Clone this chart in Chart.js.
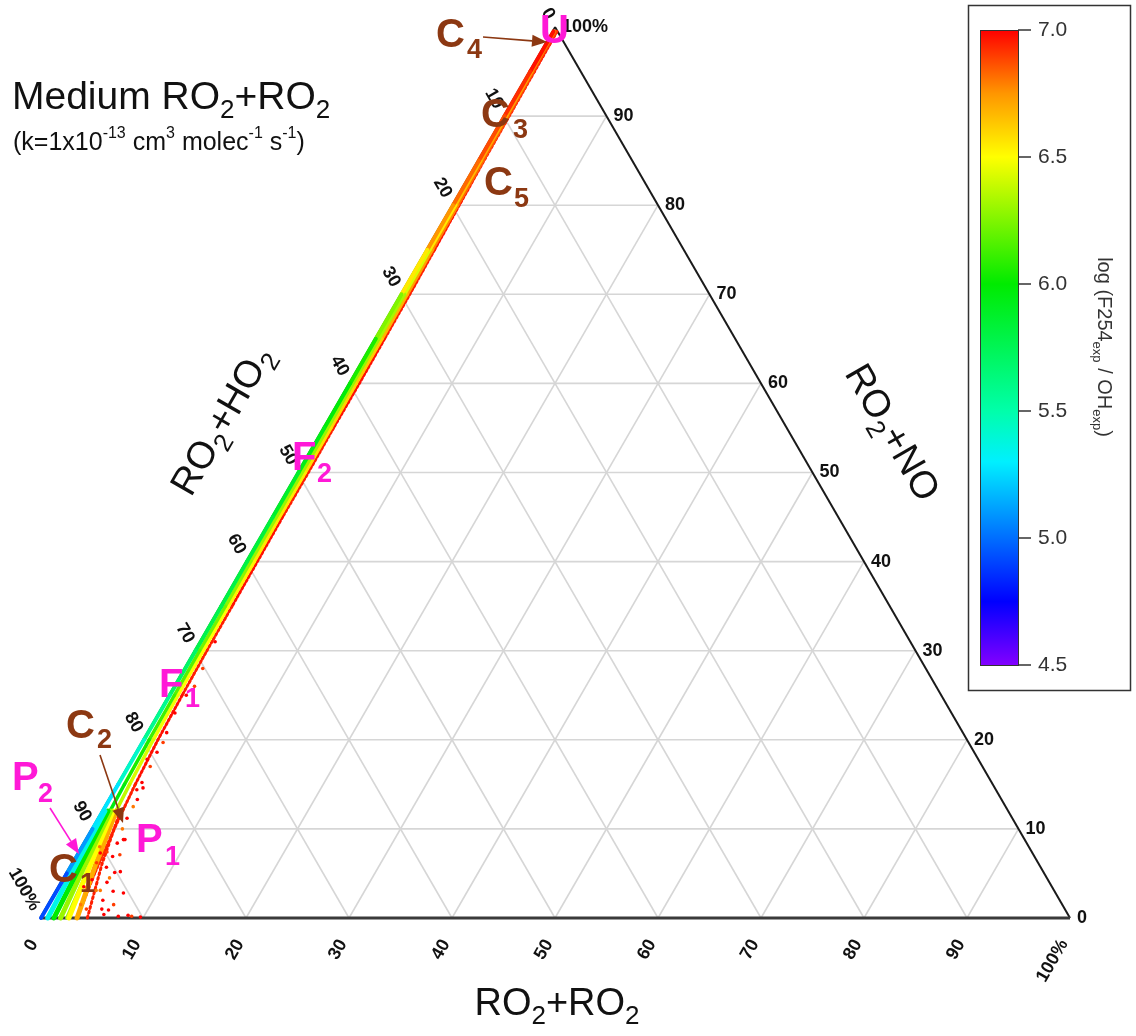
<!DOCTYPE html>
<html><head><meta charset="utf-8">
<script src="https://cdn.jsdelivr.net/npm/chart.js@4.4.0/dist/chart.umd.min.js"></script>
<style>html,body{margin:0;padding:0;background:#fff;}#c{display:block;}</style>
</head><body>
<canvas id="c" width="1136" height="1036"></canvas>
<script>
// ---------------- DATA (ternary %: RO2+RO2 = r, RO2+NO = n, RO2+HO2 = 100-r-n) ----------------
const tickVals  = [0, 10, 20, 30, 40, 50, 60, 70, 80, 90, 100];
const tickText  = ['0', '10', '20', '30', '40', '50', '60', '70', '80', '90', '100%'];
const gridTicks = [10, 20, 30, 40, 50, 60, 70, 80, 90];
const cbTicks   = [4.5, 5.0, 5.5, 6.0, 6.5, 7.0];

// main band along RO2+RO2 ~ 0 edge, sampled by RO2+NO
const bandNO   = [99.5, 95, 90, 85, 80, 75, 70, 65, 60, 55, 50, 45, 40, 35, 30, 25, 20, 15, 10, 5, 0];
const outerRO2 = [0.1, 0.1, 0.1, 0.1, 0.1, 0.1, 0.1, 0.1, 0.1, 0.1, 0.1, 0.1, 0.1, 0.1, 0.1, 0.1, 0.1, 0.1, 0.1, 0.1, 0.1];
const outerLog = [7.0, 6.95, 6.9, 6.85, 6.8, 6.7, 6.4, 6.1, 6.0, 5.95, 5.9, 5.85, 5.8, 5.8, 5.75, 5.65, 5.5, 5.35, 5.2, 5.0, 4.85];
const midRO2   = [0.2, 0.25, 0.3, 0.3, 0.35, 0.35, 0.4, 0.4, 0.4, 0.45, 0.45, 0.45, 0.45, 0.5, 0.5, 0.55, 0.6, 0.7, 0.85, 1.1, 1.4];
const midLog   = [6.8, 6.75, 6.7, 6.7, 6.6, 6.5, 6.35, 6.3, 6.3, 6.3, 6.3, 6.3, 6.3, 6.25, 6.2, 6.15, 6.1, 6.0, 5.9, 5.8, 5.7];
const innerRO2 = [0.35, 0.4, 0.45, 0.5, 0.55, 0.6, 0.65, 0.7, 0.7, 0.75, 0.75, 0.75, 0.8, 0.8, 0.85, 0.9, 1.0, 1.2, 1.5, 2.0, 2.6];
const innerLog = [6.9, 6.9, 6.85, 6.85, 6.8, 6.75, 6.7, 6.65, 6.6, 6.6, 6.55, 6.55, 6.55, 6.5, 6.5, 6.5, 6.45, 6.4, 6.35, 6.3, 6.3];
const speckRO2 = [0.45, 0.5, 0.55, 0.6, 0.7, 0.8, 0.9, 0.95, 1.0, 1.0, 1.05, 1.05, 1.1, 1.15, 1.2, 1.3, 1.45, 1.75, 2.2, 2.8, 3.6];
const speckLog = [7.0, 7.0, 6.95, 7.0, 6.95, 7.0, 6.9, 7.0, 6.95, 7.0, 6.9, 7.0, 6.95, 7.0, 6.9, 7.0, 6.95, 7.0, 6.9, 6.95, 7.0];

// fan of points at the RO2+HO2 = 100% corner
const wedgeNO     = [12, 6, 0];
const wedgeCyan   = [0.3, 0.5, 0.75];
const wedgeGreen  = [0.6, 0.95, 1.35];
const wedgeYG     = [0.85, 1.4, 2.0];
const wedgeYellow = [1.1, 1.9, 2.8];
const wedgeOrange = [1.4, 2.4, 3.6];
const wedgeLogs   = [5.35, 6.0, 6.3, 6.5, 6.7];
const wedgeSpeck  = [1.8, 3.0, 4.6];

// scattered points
const dotsRO2 = [3.3, 3.7, 2.8, 3.6, 5.2, 4.5, 6.7, 5.1, 6.4, 8.4, 9.7, 3.9, 2.9, 3.6, 1.8, 2.7, 2.2, 3.85, 4.2, 4.7, 6.2, 4.3, 4.5, 2.4, 2.2, 1.5, 2.2, 2.3, 2.8, 2.8, 2.85, 1.9, 2.1, 2.06, 7.5, 8.8, 6.0, 5.5, 1.7, 1.8, 1.5, 1.6, 2.0, 3.2, 2.5, 4.0, 5.6, 3.0];
const dotsNO  = [8.4, 8.8, 7.4, 6.9, 5.2, 4.5, 2.8, 2.0, 1.5, 0.3, 0.1, 3.1, 4.3, 5.7, 8.0, 14.6, 14.4, 8.8, 7.1, 5.1, 0.9, 3.1, 4.0, 6.2, 7.3, 17.8, 17.0, 15.2, 13.3, 12.5, 11.2, 20.8, 19.7, 18.6, 0.2, 0.2, 0.4, 1.0, 25, 28, 31, 23, 26, 1.5, 3.5, 1.0, 3.0, 10.0];
const dotsLog = [7.0, 7.0, 6.9, 7.0, 7.0, 6.8, 7.0, 7.0, 6.9, 7.0, 7.0, 6.8, 7.0, 7.0, 6.8, 7.0, 7.0, 7.0, 6.9, 7.0, 7.0, 6.8, 7.0, 6.9, 7.0, 7.0, 6.9, 7.0, 7.0, 6.8, 7.0, 7.0, 6.9, 7.0, 7.0, 6.9, 7.0, 7.0, 7.0, 6.9, 7.0, 7.0, 6.9, 6.8, 7.0, 6.9, 7.0, 6.8];

// ---------------- helpers ----------------
const SQ = Math.sqrt(3) / 2;
const FF = '"Liberation Sans", Arial, sans-serif';
function tern(r, n) { return { x: (r + n / 2) / 100, y: n / 100 * SQ }; }
const STOPS = [[4.5,[130,0,255]],[4.75,[0,0,255]],[5.0,[0,110,255]],[5.3,[0,240,255]],[5.5,[0,255,170]],[6.0,[0,235,0]],[6.5,[255,255,0]],[6.75,[255,150,0]],[7.0,[255,0,0]]];
function jet(v) {
  v = Math.max(4.5, Math.min(7.0, v));
  for (let i = 1; i < STOPS.length; i++) {
    if (v <= STOPS[i][0]) {
      const [a, ca] = STOPS[i-1], [b, cb] = STOPS[i];
      const t = (v - a) / (b - a);
      const c = ca.map((x, k) => Math.round(x + (cb[k] - x) * t));
      return `rgb(${c[0]},${c[1]},${c[2]})`;
    }
  }
  return 'rgb(255,0,0)';
}
function band(noArr, ro2Arr, logArr, width, order, dash) {
  return {
    type: 'line', order, clip: false,
    data: noArr.map((n, i) => tern(ro2Arr[i], n)),
    borderWidth: width, pointRadius: 0, borderCapStyle: 'round', borderJoinStyle: 'round',
    borderDash: dash || [], tension: 0,
    borderColor: jet(logArr[0]),
    segment: { borderColor: c => jet((logArr[c.p0DataIndex] + logArr[c.p1DataIndex]) / 2) }
  };
}
function seg(a, b, color, width, order) {
  return { type: 'line', order, clip: false, data: [a, b], borderColor: color, borderWidth: width, pointRadius: 0, tension: 0 };
}

const datasets = [];
gridTicks.forEach(t => {
  datasets.push(seg(tern(0, t), tern(100 - t, t), '#d6d6d6', 1.6, 100));
  datasets.push(seg(tern(t, 0), tern(t, 100 - t), '#d6d6d6', 1.6, 100));
  datasets.push(seg(tern(0, 100 - t), tern(100 - t, 0), '#d6d6d6', 1.6, 100));
});
datasets.push(seg(tern(0, 0), tern(100, 0), '#3a3a3a', 3, 90));
datasets.push(seg(tern(100, 0), tern(0, 100), '#1a1a1a', 2, 90));
datasets.push(seg(tern(0, 0), tern(0, 100), '#1a1a1a', 1.5, 90));
datasets.push(band(bandNO, speckRO2, speckLog, 3, 60, [2, 2.5]));
datasets.push(band(bandNO, innerRO2, innerLog, 3.5, 55));
datasets.push(band(bandNO, midRO2, midLog, 3.5, 50));
[wedgeOrange, wedgeYellow, wedgeYG, wedgeGreen, wedgeCyan].forEach((w, i) => {
  const lg = wedgeLogs[4 - i];
  datasets.push(band(wedgeNO, w, [lg, lg, lg], 5, 40 - i));
});
datasets.push(band(wedgeNO, wedgeSpeck, [7.0, 6.9, 7.0], 3, 30, [2, 3]));
datasets.push(band(bandNO, outerRO2, outerLog, 4, 20));
datasets.push({
  type: 'scatter', order: 0, clip: false,
  data: dotsNO.map((n, i) => tern(dotsRO2[i], n)),
  pointRadius: 1.8, pointBorderWidth: 0,
  pointBackgroundColor: dotsLog.map(jet), backgroundColor: dotsLog.map(jet)
});

// ---------------- text helper ----------------
function rich(ctx, parts, x, y, o) {
  o = o || {};
  ctx.save();
  ctx.translate(x, y);
  ctx.rotate((o.rot || 0) * Math.PI / 180);
  ctx.fillStyle = o.color || '#111';
  ctx.textBaseline = 'alphabetic';
  ctx.textAlign = 'left';
  const w8 = o.bold ? 'bold ' : '';
  let w = 0;
  parts.forEach(p => { ctx.font = `${w8}${p[1]}px ${FF}`; w += ctx.measureText(p[0]).width; });
  let sx = o.align === 'center' ? -w / 2 : (o.align === 'right' ? -w : 0);
  const vy = o.vy || 0;
  parts.forEach(p => {
    ctx.font = `${w8}${p[1]}px ${FF}`;
    ctx.fillText(p[0], sx, (p[2] || 0) + vy);
    sx += ctx.measureText(p[0]).width;
  });
  ctx.restore();
}
function arrow(ctx, x1, y1, x2, y2, color) {
  ctx.save();
  ctx.strokeStyle = color; ctx.fillStyle = color; ctx.lineWidth = 1.6;
  const a = Math.atan2(y2 - y1, x2 - x1), L = 15, W = 6;
  const bx = x2 - L * Math.cos(a), by = y2 - L * Math.sin(a);
  ctx.beginPath(); ctx.moveTo(x1, y1); ctx.lineTo(bx, by); ctx.stroke();
  ctx.beginPath(); ctx.moveTo(x2, y2);
  ctx.lineTo(bx + W * Math.sin(a), by - W * Math.cos(a));
  ctx.lineTo(bx - W * Math.sin(a), by + W * Math.cos(a));
  ctx.closePath(); ctx.fill();
  ctx.restore();
}

const BROWN = 'rgb(140,56,18)', MAG = 'rgb(255,25,215)';

const deco = {
  id: 'deco',
  afterDatasetsDraw(chart) {
    const ctx = chart.ctx;
    const sx = chart.scales.x, sy = chart.scales.y;
    const px = (r, n) => { const p = tern(r, n); return { x: sx.getPixelForValue(p.x), y: sy.getPixelForValue(p.y) }; };

    // tick labels
    ctx.save();
    ctx.fillStyle = '#111';
    ctx.font = `bold 18px ${FF}`;
    tickVals.forEach((v, i) => {
      const t = tickText[i];
      let p = px(v, 0);
      ctx.save(); ctx.translate(p.x - 6, p.y + 23); ctx.rotate(-Math.PI / 3);
      ctx.textAlign = 'right'; ctx.textBaseline = 'middle'; ctx.fillText(t, 0, 0); ctx.restore();
      p = px(100 - v, v);
      ctx.textAlign = 'left'; ctx.textBaseline = 'middle'; ctx.fillText(t, p.x + 7, p.y);
      p = px(0, 100 - v);
      ctx.save(); ctx.translate(p.x - 4.5, p.y - 8.7); ctx.rotate(Math.PI / 3);
      ctx.textAlign = 'right'; ctx.textBaseline = 'middle'; ctx.fillText(t, 0, 0); ctx.restore();
    });
    ctx.restore();

    // axis titles
    rich(ctx, [['RO', 38], ['2', 26, 9], ['+RO', 38], ['2', 26, 9]], 557, 1015, { align: 'center', color: '#111' });
    rich(ctx, [['RO', 38], ['2', 26, 9], ['+HO', 38], ['2', 26, 9]], 221, 420, { align: 'center', rot: -60, vy: 13, color: '#111' });
    rich(ctx, [['RO', 38], ['2', 26, 9], ['+NO', 38]], 893, 432, { align: 'center', rot: 60, vy: 13, color: '#111' });

    // title
    rich(ctx, [['Medium RO', 39], ['2', 26, 9], ['+RO', 39], ['2', 26, 9]], 12, 109, { color: '#111' });
    rich(ctx, [['(k=1x10', 25], ['-13', 16, -12], [' cm', 25], ['3', 16, -12], [' molec', 25], ['-1', 16, -12], [' s', 25], ['-1', 16, -12], [')', 25]], 13, 150, { color: '#111' });

    // annotations
    arrow(ctx, 483, 37, 547, 42, BROWN);
    arrow(ctx, 100, 755, 123, 823, BROWN);
    arrow(ctx, 50, 808, 79, 854, MAG);
    const lab = (L, s, x, y, sxx, syy, col) => {
      rich(ctx, [[L, 40]], x, y, { bold: true, color: col });
      rich(ctx, [[s, 27]], sxx, syy, { bold: true, color: col });
    };
    lab('C', '4', 436, 47, 467, 58, BROWN);
    lab('C', '3', 481, 127, 513, 138, BROWN);
    lab('C', '5', 484, 195, 514, 207, BROWN);
    lab('F', '2', 292, 470, 317, 482, MAG);
    lab('F', '1', 159, 697, 185, 707, MAG);
    lab('C', '2', 66, 738, 97, 748, BROWN);
    lab('P', '2', 12, 790, 38, 802, MAG);
    lab('P', '1', 136, 852, 165, 865, MAG);
    lab('C', '1', 49, 882, 80, 892, BROWN);
    rich(ctx, [['U', 40]], 540, 43, { bold: true, color: MAG });

    // colorbar
    const top = 30, bot = 665, bx = 980, bw = 38;
    ctx.save();
    ctx.strokeStyle = '#333'; ctx.lineWidth = 1.5;
    ctx.strokeRect(968.5, 5.5, 162, 685);
    const g = ctx.createLinearGradient(0, bot, 0, top);
    STOPS.forEach(s => g.addColorStop((s[0] - 4.5) / 2.5, `rgb(${s[1].join(',')})`));
    ctx.fillStyle = g; ctx.fillRect(bx, top, bw, bot - top);
    ctx.lineWidth = 1; ctx.strokeRect(bx + 0.5, top + 0.5, bw, bot - top);
    ctx.fillStyle = '#333'; ctx.font = `21px ${FF}`; ctx.textAlign = 'left'; ctx.textBaseline = 'middle';
    cbTicks.forEach(v => {
      const y = bot - (v - 4.5) / 2.5 * (bot - top);
      ctx.beginPath(); ctx.moveTo(bx + bw, y); ctx.lineTo(bx + bw + 13, y); ctx.lineWidth = 1.5; ctx.stroke();
      ctx.fillText(v.toFixed(1), bx + bw + 20, y);
    });
    ctx.restore();
    rich(ctx, [['log (F254', 20], ['exp', 13, 5], [' / OH', 20], ['exp', 13, 5], [')', 20]], 1105, 347, { align: 'center', rot: 90, vy: 7, color: '#333' });
  }
};

new Chart(document.getElementById('c'), {
  type: 'scatter',
  data: { datasets },
  options: {
    responsive: false, animation: false, devicePixelRatio: 1,
    layout: { padding: { left: 40, right: 66, top: 27, bottom: 118 } },
    scales: {
      x: { type: 'linear', min: 0, max: 1, display: false },
      y: { type: 'linear', min: 0, max: SQ, display: false }
    },
    plugins: { legend: { display: false }, tooltip: { enabled: false } }
  },
  plugins: [deco]
});
</script>
</body></html>
